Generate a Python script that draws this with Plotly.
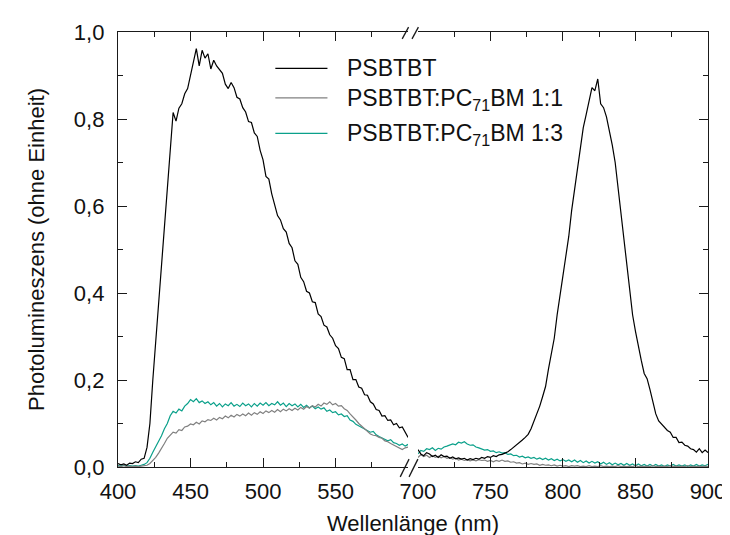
import plotly.graph_objects as go

# ---------------- data ----------------
wl_left = list(range(400, 601, 2))
wl_right = list(range(700, 901, 2))

psbtbt_left = [
    0.008, 0.005, 0.007, 0.004, 0.009, 0.008, 0.012, 0.010, 0.018, 0.020,
    0.045, 0.100, 0.200, 0.290, 0.385, 0.470, 0.550, 0.655, 0.740, 0.815,
    0.795, 0.825, 0.835, 0.858, 0.870, 0.900, 0.925, 0.962, 0.922, 0.958,
    0.940, 0.950, 0.915, 0.935, 0.922, 0.912, 0.905, 0.880, 0.870, 0.884,
    0.872, 0.850, 0.846, 0.826, 0.816, 0.794, 0.792, 0.768, 0.760, 0.728,
    0.706, 0.668, 0.662, 0.628, 0.604, 0.578, 0.568, 0.548, 0.540, 0.514,
    0.504, 0.474, 0.466, 0.436, 0.426, 0.404, 0.400, 0.380, 0.378, 0.352,
    0.346, 0.326, 0.322, 0.304, 0.296, 0.279, 0.272, 0.252, 0.249, 0.224,
    0.224, 0.201, 0.201, 0.184, 0.181, 0.166, 0.165, 0.150, 0.145, 0.132,
    0.130, 0.117, 0.118, 0.107, 0.108, 0.097, 0.100, 0.090, 0.092, 0.078,
    0.068,
]
blend11_left = [
    0.002, 0.001, 0.003, 0.001, 0.002, 0.001, 0.002, 0.001, 0.002, 0.003,
    0.004, 0.008, 0.014, 0.022, 0.032, 0.042, 0.054, 0.066, 0.074, 0.080,
    0.078, 0.086, 0.084, 0.092, 0.094, 0.099, 0.097, 0.103, 0.099, 0.106,
    0.104, 0.109, 0.107, 0.112, 0.108, 0.114, 0.111, 0.117, 0.113, 0.119,
    0.115, 0.121, 0.117, 0.122, 0.118, 0.124, 0.119, 0.125, 0.121, 0.127,
    0.123, 0.129, 0.125, 0.130, 0.126, 0.132, 0.127, 0.133, 0.129, 0.134,
    0.130, 0.135, 0.131, 0.137, 0.133, 0.139, 0.135, 0.141, 0.138, 0.144,
    0.140, 0.147, 0.144, 0.150, 0.143, 0.146, 0.140, 0.141, 0.134, 0.130,
    0.122, 0.116, 0.108, 0.100, 0.094, 0.086, 0.080, 0.076, 0.073, 0.072,
    0.068, 0.066, 0.060, 0.058, 0.054, 0.050, 0.046, 0.043, 0.040, 0.044,
    0.046,
]
blend13_left = [
    0.003, 0.002, 0.004, 0.002, 0.003, 0.002, 0.003, 0.002, 0.004, 0.006,
    0.010, 0.020, 0.034, 0.046, 0.060, 0.072, 0.088, 0.100, 0.118, 0.128,
    0.124, 0.133, 0.129, 0.140, 0.146, 0.155, 0.150, 0.157, 0.148, 0.152,
    0.146, 0.150, 0.143, 0.148, 0.140, 0.146, 0.138, 0.145, 0.141, 0.148,
    0.140, 0.144, 0.139, 0.147, 0.141, 0.145, 0.138, 0.146, 0.140, 0.147,
    0.142, 0.148, 0.141, 0.146, 0.143, 0.150, 0.142, 0.147, 0.139, 0.146,
    0.141, 0.145, 0.138, 0.144, 0.137, 0.142, 0.136, 0.140, 0.134, 0.138,
    0.133, 0.136, 0.128, 0.131, 0.125, 0.127, 0.120, 0.122, 0.116, 0.118,
    0.108, 0.105, 0.098, 0.094, 0.090, 0.086, 0.084, 0.080, 0.082, 0.074,
    0.070, 0.066, 0.064, 0.060, 0.063, 0.056, 0.054, 0.050, 0.053, 0.048,
    0.052,
]

psbtbt_right = [
    0.040, 0.030, 0.026, 0.033, 0.030, 0.024, 0.027, 0.022, 0.028, 0.024,
    0.025, 0.020, 0.023, 0.019, 0.021, 0.018, 0.020, 0.016, 0.019, 0.017,
    0.020, 0.018, 0.022, 0.020, 0.024, 0.022, 0.026, 0.024, 0.028, 0.029,
    0.032, 0.035, 0.040, 0.045, 0.050, 0.056, 0.062, 0.068, 0.075, 0.088,
    0.104, 0.122, 0.140, 0.162, 0.185, 0.225, 0.260, 0.296, 0.350, 0.400,
    0.440, 0.485, 0.530, 0.590, 0.640, 0.690, 0.730, 0.780, 0.810, 0.845,
    0.872, 0.865, 0.892, 0.835, 0.826, 0.805, 0.775, 0.740, 0.700, 0.640,
    0.590, 0.515, 0.465, 0.400, 0.350, 0.312, 0.275, 0.245, 0.215, 0.203,
    0.178, 0.150, 0.122, 0.106, 0.098, 0.092, 0.084, 0.080, 0.068, 0.068,
    0.056, 0.057, 0.050, 0.048, 0.042, 0.040, 0.034, 0.042, 0.033, 0.039,
    0.033,
]
blend11_right = [
    0.022, 0.028, 0.024, 0.027, 0.022, 0.026, 0.022, 0.025, 0.021, 0.024,
    0.020, 0.022, 0.018, 0.020, 0.016, 0.018, 0.015, 0.017, 0.014, 0.016,
    0.014, 0.017, 0.015, 0.016, 0.013, 0.015, 0.012, 0.015, 0.013, 0.016,
    0.013, 0.014, 0.011, 0.012, 0.009, 0.010, 0.007, 0.009, 0.006, 0.008,
    0.006, 0.007, 0.004, 0.006, 0.004, 0.005, 0.003, 0.005, 0.002, 0.004,
    0.002, 0.003, 0.001, 0.003, 0.002, 0.003, 0.001, 0.002, 0.001, 0.003,
    0.001, 0.002, 0.001, 0.003, 0.001, 0.002, 0.001, 0.002, 0.001, 0.003,
    0.001, 0.002, 0.001, 0.002, 0.001, 0.003, 0.001, 0.002, 0.001, 0.002,
    0.001, 0.003, 0.001, 0.002, 0.001, 0.002, 0.001, 0.003, 0.001, 0.002,
    0.001, 0.002, 0.001, 0.003, 0.001, 0.002, 0.001, 0.002, 0.001, 0.002,
    0.001,
]
blend13_right = [
    0.030, 0.038, 0.036, 0.042, 0.040, 0.044, 0.038, 0.043, 0.041, 0.046,
    0.048, 0.050, 0.053, 0.051, 0.057, 0.055, 0.058, 0.053, 0.050, 0.051,
    0.046, 0.044, 0.042, 0.039, 0.040, 0.036, 0.037, 0.033, 0.035, 0.032,
    0.033, 0.029, 0.030, 0.026, 0.027, 0.023, 0.025, 0.021, 0.023, 0.020,
    0.022, 0.018, 0.021, 0.017, 0.020, 0.016, 0.019, 0.015, 0.018, 0.014,
    0.017, 0.013, 0.016, 0.012, 0.016, 0.011, 0.015, 0.010, 0.014, 0.009,
    0.013, 0.009, 0.012, 0.007, 0.011, 0.006, 0.010, 0.005, 0.009, 0.005,
    0.008, 0.004, 0.008, 0.004, 0.007, 0.003, 0.007, 0.003, 0.006, 0.002,
    0.006, 0.002, 0.006, 0.002, 0.005, 0.001, 0.005, 0.002, 0.006, 0.002,
    0.005, 0.002, 0.005, 0.001, 0.005, 0.002, 0.006, 0.002, 0.005, 0.003,
    0.006,
]

series_names = ["PSBTBT", "PSBTBT:PC<sub>71</sub>BM 1:1", "PSBTBT:PC<sub>71</sub>BM 1:3"]
series_colors = ["#000000", "#808080", "#0aa08a"]

x_ticks_left = [400, 450, 500, 550]
x_minor_left = [425, 475, 525, 575]
x_ticks_right = [700, 750, 800, 850, 900]
x_minor_right = [725, 775, 825, 875]
y_ticks = [0, 0.2, 0.4, 0.6, 0.8, 1.0]

# ---------------- figure ----------------
FONT = "Liberation Sans, Arial, sans-serif"
fig = go.Figure()

left_sets = [psbtbt_left, blend11_left, blend13_left]
right_sets = [psbtbt_right, blend11_right, blend13_right]
# draw grey and green first, black on top
for idx in [2, 1, 0]:
    fig.add_trace(go.Scatter(x=wl_left, y=left_sets[idx], mode="lines",
                             name=series_names[idx], showlegend=False,
                             line=dict(color=series_colors[idx], width=1.2),
                             xaxis="x", yaxis="y"))
    fig.add_trace(go.Scatter(x=wl_right, y=right_sets[idx], mode="lines",
                             name=series_names[idx], showlegend=False,
                             line=dict(color=series_colors[idx], width=1.2),
                             xaxis="x2", yaxis="y2"))

axcol = "#1a1a1a"
tickfont = dict(family=FONT, size=22, color="#111")
common_x = dict(showline=True, linecolor=axcol, linewidth=1.3, mirror="allticks",
                ticks="inside", ticklen=9, tickwidth=1.2, tickcolor=axcol,
                showgrid=False, zeroline=False, tickfont=tickfont,
                ticklabelstandoff=4, anchor="y")
fig.update_layout(
    width=730, height=535,
    margin=dict(l=110, r=20, t=17, b=76),
    paper_bgcolor="white", plot_bgcolor="white",
    separators=",.",
    font=dict(family=FONT, size=22, color="#111"),
    xaxis=dict(domain=[0, 295 / 600], range=[400, 600], tickmode="array",
               tickvals=x_ticks_left,
               minor=dict(tickmode="array", tickvals=x_minor_left, ticks="inside",
                          ticklen=5, tickwidth=1.2, tickcolor=axcol),
               **common_x),
    xaxis2=dict(domain=[305 / 600, 1], range=[700, 900], tickmode="array",
                tickvals=x_ticks_right,
                minor=dict(tickmode="array", tickvals=x_minor_right, ticks="inside",
                           ticklen=5, tickwidth=1.2, tickcolor=axcol),
                **{**common_x, "anchor": "y2"}),
    yaxis=dict(range=[0, 1], anchor="x", side="left", tickmode="array",
               tickvals=y_ticks, tickformat=".1f",
               showline=True, linecolor=axcol, linewidth=1.3,
               ticks="inside", ticklen=9, tickwidth=1.2, tickcolor=axcol,
               minor=dict(dtick=0.1, ticks="inside", ticklen=5, tickwidth=1.2,
                          tickcolor=axcol),
               showgrid=False, zeroline=False, tickfont=tickfont,
               ticklabelstandoff=8),
    yaxis2=dict(range=[0, 1], anchor="x2", side="right", matches="y",
                tickmode="array", tickvals=y_ticks, showticklabels=False,
                showline=True, linecolor=axcol, linewidth=1.3,
                ticks="inside", ticklen=9, tickwidth=1.2, tickcolor=axcol,
                minor=dict(dtick=0.1, ticks="inside", ticklen=5, tickwidth=1.2,
                           tickcolor=axcol),
                showgrid=False, zeroline=False),
)

def px2paper(px, py):
    return (px - 110) / 600.0, (459 - py) / 442.0

shapes = []
# axis-break marks (bottom and top)
for (xa, ya, xb, yb) in [(397, 469, 406, 451), (406, 469, 415, 451),
                         (399, 24, 405.5, 12), (409, 24, 415.5, 12)]:
    x0, y0 = px2paper(xa, ya)
    x1, y1 = px2paper(xb, yb)
    shapes.append(dict(type="line", xref="paper", yref="paper",
                       x0=x0, y0=y0, x1=x1, y1=y1,
                       line=dict(color=axcol, width=1.3)))

# legend (drawn manually to match the long sample lines)
legend_rows = [54, 84, 120]
text_rows = [54, 86, 121]
annotations = []
for i in range(3):
    x0, yl = px2paper(270, legend_rows[i])
    x1, _ = px2paper(323, legend_rows[i])
    shapes.append(dict(type="line", xref="paper", yref="paper",
                       x0=x0, y0=yl, x1=x1, y1=yl,
                       line=dict(color=series_colors[i], width=1.3)))
    tx, ty = px2paper(341, text_rows[i])
    annotations.append(dict(xref="paper", yref="paper", x=tx, y=ty,
                            xanchor="left", yanchor="middle", showarrow=False,
                            text=series_names[i],
                            font=dict(family=FONT, size=23, color="#111")))

ax, ay = px2paper(410, 516)
annotations.append(dict(xref="paper", yref="paper", x=ax, y=ay, xanchor="center",
                        yanchor="middle", showarrow=False, text="Wellenlänge (nm)",
                        font=dict(family=FONT, size=22, color="#111")))
ax, ay = px2paper(27, 238)
annotations.append(dict(xref="paper", yref="paper", x=ax, y=ay, xanchor="center",
                        yanchor="middle", showarrow=False, textangle=-90,
                        text="Photolumineszens (ohne Einheit)",
                        font=dict(family=FONT, size=22, color="#111")))

fig.update_layout(shapes=shapes, annotations=annotations)
fig.write_html("out.html")
